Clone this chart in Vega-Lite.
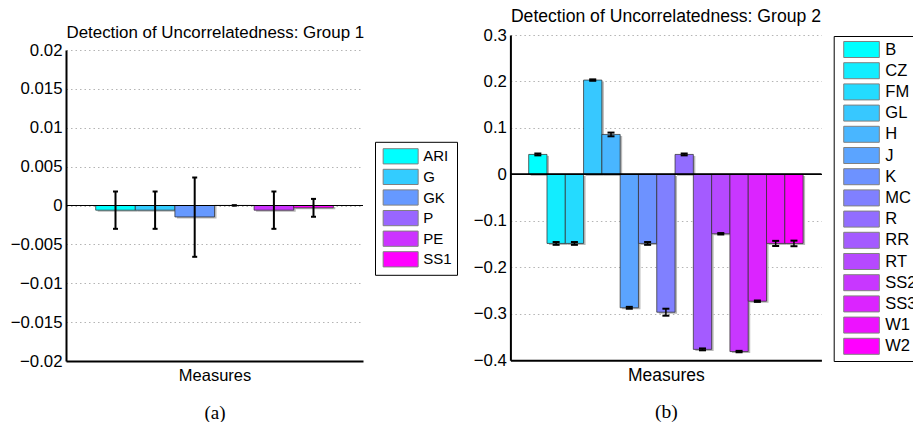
{
  "$schema": "https://vega.github.io/schema/vega-lite/v6.json",
  "padding": {"left": 10, "top": 7, "right": 0, "bottom": 0},
  "background": "white",
  "config": {
    "font": "Liberation Sans",
    "view": {"stroke": null},
    "axis": {"labelColor": "black", "titleColor": "black", "titleFontWeight": "normal"}
  },
  "datasets": {
    "g1": [
      {"measure": "ARI", "value": -0.0006, "lo": -0.003, "hi": 0.0018},
      {"measure": "G", "value": -0.0006, "lo": -0.003, "hi": 0.0018},
      {"measure": "GK", "value": -0.00147, "lo": -0.0066, "hi": 0.0036},
      {"measure": "P", "value": 0.00001, "lo": -0.00001, "hi": 0.00003},
      {"measure": "PE", "value": -0.0006, "lo": -0.003, "hi": 0.0018},
      {"measure": "SS1", "value": -0.0003, "lo": -0.00145, "hi": 0.00085}
    ],
    "g2": [
      {"measure": "B", "value": 0.043, "lo": 0.041, "hi": 0.045},
      {"measure": "CZ", "value": -0.1485, "lo": -0.1515, "hi": -0.1455},
      {"measure": "FM", "value": -0.1485, "lo": -0.1515, "hi": -0.1455},
      {"measure": "GL", "value": 0.203, "lo": 0.2015, "hi": 0.2045},
      {"measure": "H", "value": 0.086, "lo": 0.082, "hi": 0.090},
      {"measure": "J", "value": -0.287, "lo": -0.289, "hi": -0.285},
      {"measure": "K", "value": -0.1485, "lo": -0.1515, "hi": -0.1455},
      {"measure": "MC", "value": -0.2965, "lo": -0.304, "hi": -0.289},
      {"measure": "R", "value": 0.043, "lo": 0.041, "hi": 0.045},
      {"measure": "RR", "value": -0.3765, "lo": -0.3785, "hi": -0.3745},
      {"measure": "RT", "value": -0.1277, "lo": -0.1292, "hi": -0.1262},
      {"measure": "SS2", "value": -0.3812, "lo": -0.3827, "hi": -0.3797},
      {"measure": "SS3", "value": -0.2728, "lo": -0.2743, "hi": -0.2713},
      {"measure": "W1", "value": -0.1485, "lo": -0.1540, "hi": -0.1430},
      {"measure": "W2", "value": -0.1485, "lo": -0.1545, "hi": -0.1425}
    ]
  },
  "spacing": 14.4,
  "resolve": {
    "scale": {"x": "independent", "y": "independent", "color": "independent"},
    "axis": {"x": "independent", "y": "independent"},
    "legend": {"color": "independent"}
  },
  "hconcat": [
    {
      "width": 297,
      "height": 326,
      "data": {"name": "g1"},
      "layer": [
        {
          "mark": {"type": "bar", "color": "#b8b8b8", "xOffset": 2, "yOffset": 1.5, "width": {"band": 1}},
          "encoding": {
            "x": {"field": "measure", "type": "nominal", "sort": null, "axis": null},
            "y": {"field": "value", "type": "quantitative"}
          }
        },
        {
          "mark": {"type": "bar", "stroke": "#333333", "strokeOpacity": 0.75, "strokeWidth": 1, "width": {"band": 1}},
          "encoding": {
            "x": {
              "field": "measure", "type": "nominal", "sort": null,
              "scale": {"paddingInner": 0, "paddingOuter": 0.75},
              "axis": {"title": "Measures", "orient": "bottom", "labels": false, "ticks": false, "grid": false, "domainColor": "black", "domainWidth": 2, "titleFontSize": 16.5, "titlePadding": 6}
            },
            "y": {
              "field": "value", "type": "quantitative",
              "scale": {"domain": [-0.02, 0.02], "nice": false, "zero": false, "range": [326, 15]},
              "axis": {
                "title": null, "values": [-0.02, -0.015, -0.01, -0.005, 0, 0.005, 0.01, 0.015, 0.02],
                "format": "~f", "ticks": false, "labelFontSize": 16.8, "labelPadding": 4, "labelOverlap": false,
                "domainColor": "black", "domainWidth": 2,
                "grid": true, "gridColor": "#b4b4b4", "gridDash": [1.5, 3], "gridWidth": 1
              }
            },
            "color": {
              "field": "measure", "type": "nominal",
              "scale": {"domain": ["ARI", "G", "GK", "P", "PE", "SS1"], "range": ["#00FFFF", "#33CCFF", "#6699FF", "#9966FF", "#CC33FF", "#FF00FF"]},
              "legend": {
                "orient": "none", "legendX": 309, "legendY": 106.8, "title": null,
                "symbolType": "M-0.726,-0.87H3.274V0.87H-0.726Z", "symbolSize": 306.25,
                "symbolStrokeColor": "#808080", "symbolStrokeWidth": 1, "symbolOpacity": 1,
                "labelFontSize": 15, "labelOffset": 24.2, "labelColor": "black",
                "rowPadding": -0.4, "padding": 5, "strokeColor": "black", "fillColor": "white"
              }
            }
          }
        },
        {
          "mark": {"type": "rule", "color": "black", "strokeWidth": 1},
          "encoding": {"y": {"datum": 0}}
        },
        {
          "mark": {"type": "rule", "color": "black", "strokeWidth": 2},
          "encoding": {
            "x": {
              "field": "measure", "type": "nominal", "sort": null,
              "axis": {"title": "(a)", "orient": "bottom", "labels": false, "ticks": false, "domain": false, "grid": false, "titleFont": "Liberation Serif", "titleFontSize": 19, "titlePadding": 42}
            },
            "y": {"field": "lo", "type": "quantitative"},
            "y2": {"field": "hi"}
          }
        },
        {
          "mark": {"type": "tick", "color": "black", "thickness": 2, "size": 5, "opacity": 1},
          "encoding": {
            "x": {
              "field": "measure", "type": "nominal", "sort": null,
              "axis": {"title": "Detection of Uncorrelatedness: Group 1", "orient": "top", "offset": -15, "labels": false, "ticks": false, "domain": false, "grid": false, "titleFontSize": 16.9, "titleAnchor": "start", "titleAlign": "left", "titleBaseline": "alphabetic", "titlePadding": 12.4}
            },
            "y": {"field": "lo", "type": "quantitative"}
          }
        },
        {
          "mark": {"type": "tick", "color": "black", "thickness": 2, "size": 5, "opacity": 1},
          "encoding": {
            "x": {"field": "measure", "type": "nominal", "sort": null, "axis": null},
            "y": {"field": "hi", "type": "quantitative"}
          }
        }
      ],
      "resolve": {"axis": {"x": "independent"}}
    },
    {
      "width": 311,
      "height": 325.3,
      "data": {"name": "g2"},
      "layer": [
        {
          "mark": {"type": "bar", "color": "#b8b8b8", "xOffset": 2, "yOffset": 1.5, "width": {"band": 1}},
          "encoding": {
            "x": {"field": "measure", "type": "nominal", "sort": null, "axis": null},
            "y": {"field": "value", "type": "quantitative"}
          }
        },
        {
          "mark": {"type": "bar", "stroke": "#333333", "strokeOpacity": 0.75, "strokeWidth": 1, "width": {"band": 1}},
          "encoding": {
            "x": {
              "field": "measure", "type": "nominal", "sort": null,
              "scale": {"paddingInner": 0, "paddingOuter": 1.87},
              "axis": {"title": "Measures", "orient": "bottom", "labels": false, "ticks": false, "grid": false, "domainColor": "black", "domainWidth": 2, "titleFontSize": 17.5, "titlePadding": 6}
            },
            "y": {
              "field": "value", "type": "quantitative",
              "scale": {"domain": [-0.4, 0.3], "nice": false, "zero": false},
              "axis": {
                "title": null, "values": [-0.4, -0.3, -0.2, -0.1, 0, 0.1, 0.2, 0.3],
                "format": "~f", "ticks": false, "labelFontSize": 16.8, "labelPadding": 4, "labelOverlap": false,
                "domainColor": "black", "domainWidth": 2,
                "grid": true, "gridColor": "#b4b4b4", "gridDash": [1.5, 3], "gridWidth": 1
              }
            },
            "color": {
              "field": "measure", "type": "nominal",
              "scale": {
                "domain": ["B", "CZ", "FM", "GL", "H", "J", "K", "MC", "R", "RR", "RT", "SS2", "SS3", "W1", "W2"],
                "range": ["#00FFFF", "#12EDFF", "#24DBFF", "#37C8FF", "#49B6FF", "#5BA4FF", "#6D92FF", "#8080FF", "#926DFF", "#A45BFF", "#B649FF", "#C837FF", "#DB24FF", "#ED12FF", "#FF00FF"]
              },
              "legend": {
                "orient": "none", "legendX": 323.3, "legendY": 1, "title": null,
                "symbolType": "M-0.39,-0.9H3.61V0.9H-0.39Z", "symbolSize": 316.8,
                "symbolStrokeColor": "#808080", "symbolStrokeWidth": 1, "symbolOpacity": 1,
                "labelFontSize": 16.5, "labelOffset": 28.6, "labelColor": "black",
                "rowPadding": 0.2, "padding": 4, "strokeColor": "black", "fillColor": "white"
              }
            }
          }
        },
        {
          "mark": {"type": "rule", "color": "black", "strokeWidth": 1},
          "encoding": {"y": {"datum": 0}}
        },
        {
          "mark": {"type": "rule", "color": "black", "strokeWidth": 1.5},
          "encoding": {
            "x": {
              "field": "measure", "type": "nominal", "sort": null,
              "axis": {"title": "(b)", "orient": "bottom", "labels": false, "ticks": false, "domain": false, "grid": false, "titleFont": "Liberation Serif", "titleFontSize": 19.5, "titlePadding": 42}
            },
            "y": {"field": "lo", "type": "quantitative"},
            "y2": {"field": "hi"}
          }
        },
        {
          "mark": {"type": "tick", "color": "black", "thickness": 2, "size": 7, "opacity": 1},
          "encoding": {
            "x": {
              "field": "measure", "type": "nominal", "sort": null,
              "axis": {"title": "Detection of Uncorrelatedness: Group 2", "orient": "top", "labels": false, "ticks": false, "domain": false, "grid": false, "titleFontSize": 17.6, "titleAnchor": "start", "titleAlign": "left", "titleBaseline": "alphabetic", "titlePadding": 14}
            },
            "y": {"field": "lo", "type": "quantitative"}
          }
        },
        {
          "mark": {"type": "tick", "color": "black", "thickness": 2, "size": 7, "opacity": 1},
          "encoding": {
            "x": {"field": "measure", "type": "nominal", "sort": null, "axis": null},
            "y": {"field": "hi", "type": "quantitative"}
          }
        }
      ],
      "resolve": {"axis": {"x": "independent"}}
    }
  ]
}
